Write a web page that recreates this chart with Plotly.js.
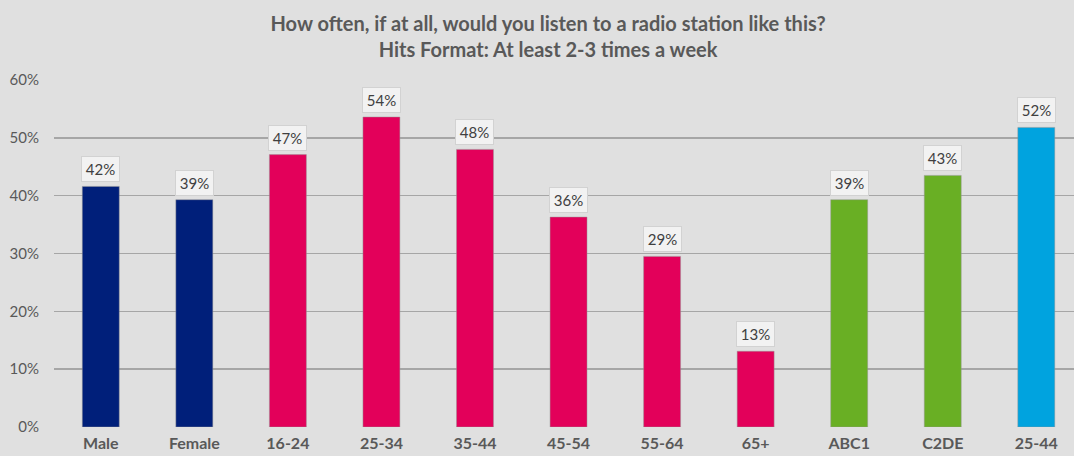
<!DOCTYPE html>
<html>
<head>
<meta charset="utf-8">
<script src="https://cdn.plot.ly/plotly-3.0.1.min.js"></script>
<style>html,body{margin:0;padding:0;background:#e0e0e0;}#chart{width:1074px;height:456px;}</style>
</head>
<body>
<div id="chart"></div>
<script>
const categories = ["Male","Female","16-24","25-34","35-44","45-54","55-64","65+","ABC1","C2DE","25-44"];
const values = [0.416, 0.393, 0.471, 0.536, 0.480, 0.363, 0.295, 0.131, 0.393, 0.435, 0.518];
const labels = ["42%","39%","47%","54%","48%","36%","29%","13%","39%","43%","52%"];
const barColors = ["#001F7A","#001F7A","#E3005A","#E3005A","#E3005A","#E3005A","#E3005A","#E3005A","#69AF24","#69AF24","#00A3DF"];
const yTicks = [0,0.1,0.2,0.3,0.4,0.5,0.6];
const yTickText = ["0%","10%","20%","30%","40%","50%","60%"];

const FONT = "Lato, 'Open Sans', sans-serif";

const trace = {
  type: "bar",
  x: categories.map((c,i)=>i),
  y: values,
  width: 0.395,
  marker: {color: barColors, line: {color: "rgba(150,150,150,0.6)", width: 0.8}},
  hoverinfo: "skip"
};

const annotations = values.map((v,i)=>({
  x: i, y: v, xref: "x", yref: "y",
  text: labels[i], showarrow: false,
  yanchor: "bottom", xanchor: "center", yshift: 4,
  font: {family: FONT, size: 15, color: "#404040"},
  bgcolor: "#F2F2F2", bordercolor: "#D2D2D2", borderwidth: 1,
  width: 35, height: 22
}));

const layout = {
  width: 1074, height: 456,
  paper_bgcolor: "#E0E0E0", plot_bgcolor: "#E0E0E0",
  margin: {l: 54, r: 0, t: 80, b: 29, pad: 0},
  title: {
    text: "How often, if at all, would you listen to a radio station like this?<br>Hits Format: At least 2-3 times a week",
    font: {family: FONT, size: 20, color: "#595959", weight: "bold"},
    x: 0.5103, xanchor: "center", xref: "container", y: 0.932, yanchor: "middle", yref: "container"
  },
  showlegend: false,
  bargap: 0,
  xaxis: {
    range: [-0.5, 10.403],
    tickmode: "array", tickvals: categories.map((c,i)=>i), ticktext: categories.map(c=>"<b>"+c+"</b>"),
    tickfont: {family: FONT, size: 16, color: "#595959"},
    showgrid: false, zeroline: false, showline: false, ticks: "",
    ticklabelstandoff: 5,
    fixedrange: true
  },
  yaxis: {
    range: [0, 0.6],
    tickmode: "array", tickvals: yTicks, ticktext: yTickText,
    tickfont: {family: FONT, size: 15, color: "#595959"},
    showgrid: true, gridcolor: "#A6A6A6", gridwidth: 1.6,
    zeroline: false, showline: false, ticks: "",
    ticklabelstandoff: 14,
    fixedrange: true
  },
  annotations: annotations
};

Plotly.newPlot("chart", [trace], layout, {displayModeBar: false, staticPlot: true});
</script>
</body>
</html>
